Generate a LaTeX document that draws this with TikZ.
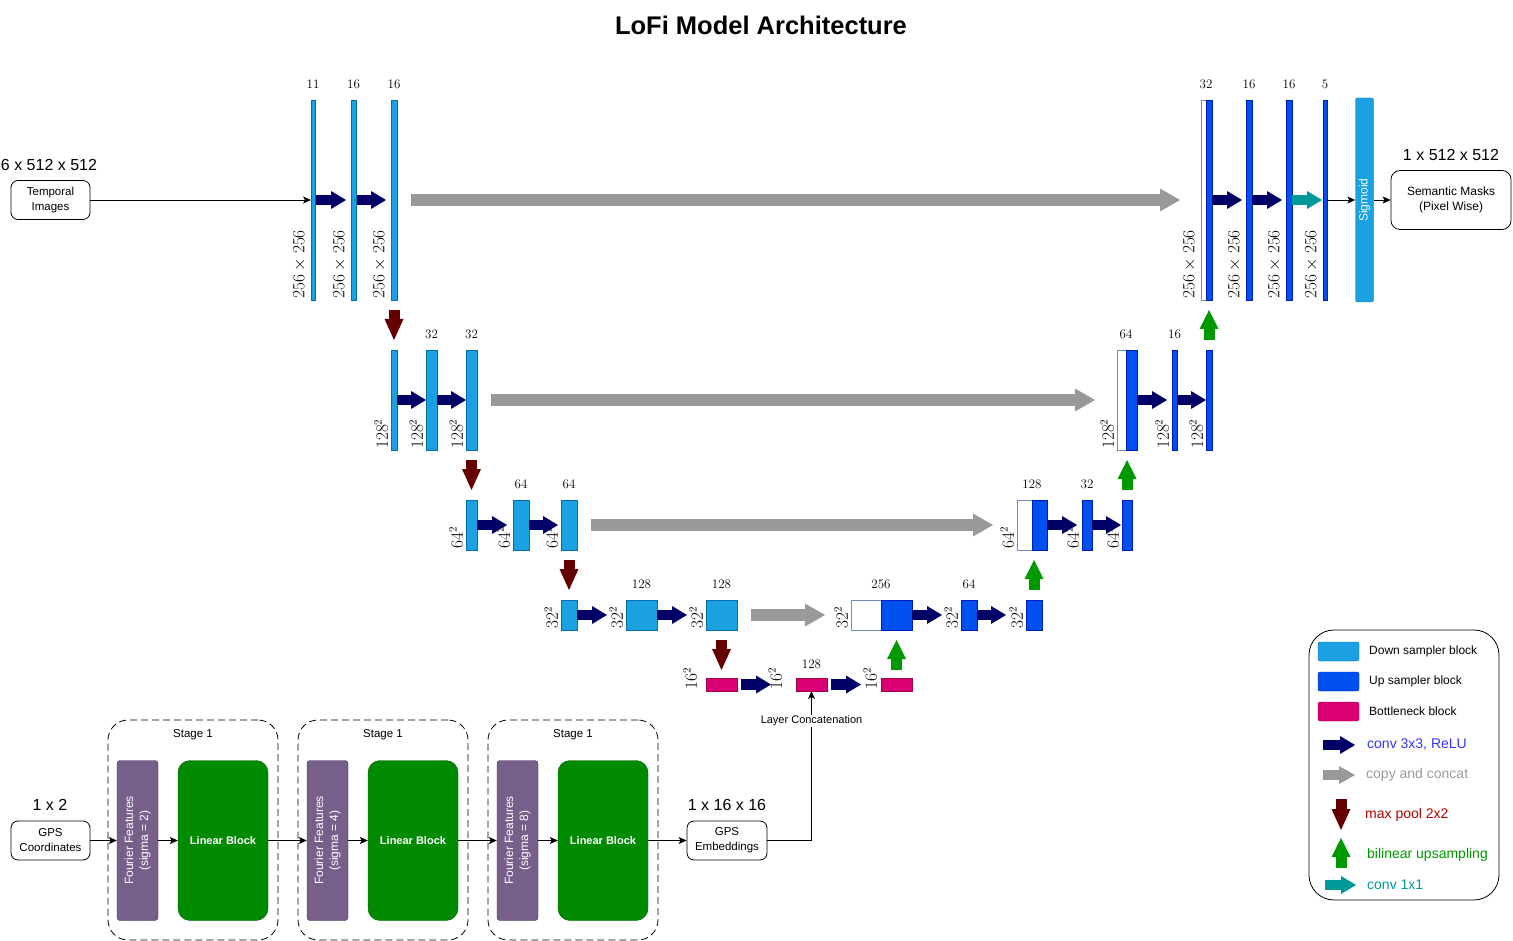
\documentclass[tikz,border=0pt]{standalone}
\usepackage{fontspec}
\newfontfamily\arialf{Liberation Sans}
\usetikzlibrary{arrows.meta,positioning}

\definecolor{dnfill}{HTML}{1BA1E2}
\definecolor{dnline}{HTML}{006EAF}
\definecolor{upfill}{HTML}{0050EF}
\definecolor{upline}{HTML}{001DBC}
\definecolor{btfill}{HTML}{D80073}
\definecolor{btline}{HTML}{A50040}
\definecolor{ccline}{HTML}{6C8EBF}
\definecolor{navy}{HTML}{000066}
\definecolor{cpgray}{HTML}{999999}
\definecolor{poolred}{HTML}{660000}
\definecolor{upgreen}{HTML}{009900}
\definecolor{cvteal}{HTML}{009999}
\definecolor{ffpurple}{HTML}{76608A}
\definecolor{ffline}{HTML}{432D57}
\definecolor{lingreen}{HTML}{008A00}
\definecolor{linline}{HTML}{005700}
\definecolor{convblue}{HTML}{3333FF}
\definecolor{poolfont}{HTML}{B20000}

% block of a layer: name, style, left, top, width, height
\newcommand{\blk}[6]{\node[#2,minimum width=#5pt,minimum height=#6pt,anchor=north west] (#1) at (#3,#4) {};}
% rotated size label left of a block
\newcommand{\dimlbl}[4][2pt]{\node[dim,anchor=south west] (#2) at ([xshift=-#1]#3.south west) {#4};}

\begin{document}
\begin{tikzpicture}[x=1pt,y=-1pt,
  dsb/.style={draw=dnline,fill=dnfill,inner sep=0pt,outer sep=0pt},
  usb/.style={draw=upline,fill=upfill,inner sep=0pt,outer sep=0pt},
  bnb/.style={draw=btline,fill=btfill,inner sep=0pt,outer sep=0pt},
  ccb/.style={draw=ccline,fill=white,inner sep=0pt,outer sep=0pt},
  num/.style={font=\fontsize{13}{13}\selectfont,inner sep=0pt},
  dim/.style={rotate=90,font=\fontsize{16}{16}\selectfont,inner sep=1pt},
  conv/.style={navy,line width=10.5pt,-{Triangle[length=15pt,width=18pt,line width=0pt]}},
  cv1/.style={cvteal,line width=10.5pt,-{Triangle[length=15pt,width=18pt,line width=0pt]}},
  cpy/.style={cpgray,line width=12pt,-{Triangle[length=20pt,width=23pt,line width=0pt]}},
  pool/.style={poolred,line width=11pt,-{Triangle[length=21pt,width=19pt,line width=0pt]}},
  upsmp/.style={upgreen,line width=11pt,-{Triangle[length=19pt,width=19pt,line width=0pt]}},
  thin/.style={line width=0.8pt,-{Stealth[length=8pt,width=7pt,inset=2pt]}},
  box/.style={draw,line width=0.8pt,rounded corners=7pt,align=center,inner sep=0pt,
    font=\arialf\fontsize{11.5}{15}\selectfont},
  shp/.style={font=\arialf\fontsize{16}{16}\selectfont,inner sep=0pt},
  stage/.style={draw,line width=0.8pt,dash pattern=on 7pt off 4pt,rounded corners=20pt,
    minimum width=170pt,minimum height=220pt},
  ffb/.style={draw=ffline,fill=ffpurple,rounded corners=3pt,rotate=90,text=white,align=center,
    minimum width=160pt,minimum height=41pt,font=\arialf\fontsize{12}{15}\selectfont},
  lin/.style={draw=linline,fill=lingreen,rounded corners=12pt,text=white,
    minimum width=90pt,minimum height=160pt,font=\arialf\bfseries\fontsize{11}{13}\selectfont},
  sig/.style={draw=dnline,fill=dnfill,rounded corners=2pt,rotate=90,text=white,
    minimum width=204pt,minimum height=18pt,inner sep=0pt,font=\arialf\fontsize{12}{12}\selectfont},
  lgtxt/.style={anchor=west,inner sep=0pt,font=\arialf\fontsize{12}{12}\selectfont},
  lgcol/.style={anchor=west,inner sep=0pt,font=\arialf\fontsize{14}{14}\selectfont}]

\useasboundingbox (0,0) rectangle (1513,941);

\node[font=\arialf\bfseries\fontsize{25.5}{28}\selectfont] (title) at (761,25) {LoFi Model Architecture};

% encoder
\blk{d1a}{dsb}{311}{100}{4}{200}
\blk{d1b}{dsb}{351}{100}{5}{200}
\blk{d1c}{dsb}{391}{100}{6}{200}
\blk{d2a}{dsb}{391}{350}{6}{100}
\blk{d2b}{dsb}{426}{350}{11}{100}
\blk{d2c}{dsb}{466}{350}{11}{100}
\blk{d3a}{dsb}{466}{500}{11}{50}
\blk{d3b}{dsb}{513}{500}{16}{50}
\blk{d3c}{dsb}{561}{500}{16}{50}
\blk{d4a}{dsb}{561}{600}{16}{30}
\blk{d4b}{dsb}{626}{600}{31}{30}
\blk{d4c}{dsb}{706}{600}{31}{30}
% bottleneck
\blk{b1}{bnb}{706}{678}{31}{13}
\blk{b2}{bnb}{796}{678}{31}{13}
\blk{b3}{bnb}{881}{678}{31}{13}
% decoder
\blk{u4w}{ccb}{851}{600}{30}{30}
\blk{u4a}{usb}{881}{600}{31}{30}
\blk{u4b}{usb}{961}{600}{16}{30}
\blk{u4c}{usb}{1026}{600}{16}{30}
\blk{u3w}{ccb}{1017}{500}{15}{50}
\blk{u3a}{usb}{1032}{500}{15}{50}
\blk{u3b}{usb}{1082}{500}{10}{50}
\blk{u3c}{usb}{1122}{500}{10}{50}
\blk{u2w}{ccb}{1117}{350}{9}{100}
\blk{u2a}{usb}{1126}{350}{11}{100}
\blk{u2b}{usb}{1172}{350}{5}{100}
\blk{u2c}{usb}{1206}{350}{6}{100}
\blk{u1w}{ccb}{1201}{100}{5}{200}
\blk{u1a}{usb}{1206}{100}{6}{200}
\blk{u1b}{usb}{1246}{100}{6}{200}
\blk{u1c}{usb}{1286}{100}{6}{200}
\blk{u1d}{usb}{1323}{100}{4}{200}

\node[sig] (sigm) at (1364.5,200) {Sigmoid};

% channels
\node[num,above=11pt of d1a] (n1a) {11};
\node[num,above=11pt of d1b] (n1b) {16};
\node[num,above=11pt of d1c] (n1c) {16};
\node[num,above=11pt of d2b] (n2b) {32};
\node[num,above=11pt of d2c] (n2c) {32};
\node[num,above=11pt of d3b] (n3b) {64};
\node[num,above=11pt of d3c] (n3c) {64};
\node[num,above=11pt of d4b] (n4b) {128};
\node[num,above=11pt of d4c] (n4c) {128};
\node[num,above=9pt of b2] (n5b) {128};
\node[num,above=11pt of u4w.north east] (m4a) {256};
\node[num,above=11pt of u4b] (m4b) {64};
\node[num,above=11pt of u3w.north east] (m3a) {128};
\node[num,above=11pt of u3b] (m3b) {32};
\node[num,above=11pt of u2w.north east] (m2a) {64};
\node[num,above=11pt of u2b] (m2b) {16};
\node[num,above=11pt of u1w.north east] (m1a) {32};
\node[num,above=11pt of u1b] (m1b) {16};
\node[num,above=11pt of u1c] (m1c) {16};
\node[num,above=11pt of u1d] (m1d) {5};

% sizes
\dimlbl[4pt]{s1a}{d1a}{$256\times256$}
\dimlbl[4pt]{s1b}{d1b}{$256\times256$}
\dimlbl[4pt]{s1c}{d1c}{$256\times256$}
\dimlbl[4pt]{t1a}{u1w}{$256\times256$}
\dimlbl[4pt]{t1b}{u1b}{$256\times256$}
\dimlbl[4pt]{t1c}{u1c}{$256\times256$}
\dimlbl[4pt]{t1d}{u1d}{$256\times256$}
\dimlbl{s2a}{d2a}{$128^2$}
\dimlbl{s2b}{d2b}{$128^2$}
\dimlbl{s2c}{d2c}{$128^2$}
\dimlbl{t2a}{u2w}{$128^2$}
\dimlbl{t2b}{u2b}{$128^2$}
\dimlbl{t2c}{u2c}{$128^2$}
\dimlbl{s3a}{d3a}{$64^2$}
\dimlbl{s3b}{d3b}{$64^2$}
\dimlbl{s3c}{d3c}{$64^2$}
\dimlbl{t3a}{u3w}{$64^2$}
\dimlbl{t3b}{u3b}{$64^2$}
\dimlbl{t3c}{u3c}{$64^2$}
\dimlbl{s4a}{d4a}{$32^2$}
\dimlbl{s4b}{d4b}{$32^2$}
\dimlbl{s4c}{d4c}{$32^2$}
\dimlbl{t4a}{u4w}{$32^2$}
\dimlbl{t4b}{u4b}{$32^2$}
\dimlbl{t4c}{u4c}{$32^2$}
\dimlbl[8pt]{s5a}{b1}{$16^2$}
\dimlbl[13pt]{s5b}{b2}{$16^2$}
\dimlbl[3pt]{s5c}{b3}{$16^2$}

% level 1
\draw[conv,shorten <=1pt,shorten >=5pt] (d1a.east) -- (d1b.west);
\draw[conv,shorten <=1pt,shorten >=5pt] (d1b.east) -- (d1c.west);
\draw[cpy,shorten <=14pt,shorten >=21pt] (d1c.east) -- (u1w.west);
\draw[conv,shorten >=4pt] (u1a.east) -- (u1b.west);
\draw[conv,shorten >=4pt] (u1b.east) -- (u1c.west);
\draw[cv1,shorten >=1pt] (u1c.east) -- (u1d.west);
\draw[pool,shorten <=10pt,shorten >=10pt] (d1c.south) -- (d2a.north);
% level 2
\draw[conv] (d2a.east) -- (d2b.west);
\draw[conv] (d2b.east) -- (d2c.west);
\draw[cpy,shorten <=14pt,shorten >=22pt] (d2c.east) -- (u2w.west);
\draw[conv,shorten >=5pt] (u2a.east) -- (u2b.west);
\draw[conv] (u2b.east) -- (u2c.west);
\draw[upsmp,shorten <=10pt,shorten >=10pt] (u2c.north) -- (u1a.south);
\draw[pool,shorten <=10pt,shorten >=10pt] (d2c.south) -- (d3a.north);
% level 3
\draw[conv,shorten >=6pt] (d3a.east) -- (d3b.west);
\draw[conv,shorten >=3pt] (d3b.east) -- (d3c.west);
\draw[cpy,shorten <=14pt,shorten >=24pt] (d3c.east) -- (u3w.west);
\draw[conv,shorten >=5pt] (u3a.east) -- (u3b.west);
\draw[conv,shorten >=1pt] (u3b.east) -- (u3c.west);
\draw[upsmp,shorten <=10pt,shorten >=10pt] (u3c.north) -- (u3c.north |- u2a.south);
\draw[pool,shorten <=10pt,shorten >=10pt] (d3c.south) -- (d4a.north);
% level 4
\draw[conv,shorten >=19pt] (d4a.east) -- (d4b.west);
\draw[conv,shorten >=19pt] (d4b.east) -- (d4c.west);
\draw[cpy,shorten <=14pt,shorten >=26pt] (d4c.east) -- (u4w.west);
\draw[conv,shorten >=19pt] (u4a.east) -- (u4b.west);
\draw[conv,shorten >=20pt] (u4b.east) -- (u4c.west);
\draw[upsmp,shorten <=10pt,shorten >=10pt] (u4c.north) -- (u4c.north |- u3a.south);
\draw[pool,shorten <=10pt,shorten >=8pt] (d4c.south) -- (b1.north);
% level 5
\draw[conv,shorten <=4pt,shorten >=25pt] (b1.east) -- (b2.west);
\draw[conv,shorten <=4pt,shorten >=20pt] (b2.east) -- (b3.west);
\draw[upsmp,shorten <=8pt,shorten >=10pt] (b3.north) -- (u4a.south);

% input and output
\node[box,minimum width=79pt,minimum height=39pt] (temp) at (50.5,200) {Temporal\\Images};
\node[shp] (tempsz) at (49,165) {6 x 512 x 512};
\node[box,minimum width=120pt,minimum height=59pt,rounded corners=9pt,
  font=\arialf\fontsize{12}{15}\selectfont] (mask) at (1451,200) {Semantic Masks\\(Pixel Wise)};
\node[shp] (masksz) at (1451,155) {1 x 512 x 512};
\draw[thin] (temp.east) -- (d1a.west);
\draw[thin] (u1d.east) -- (sigm.north);
\draw[thin] (sigm.south) -- (mask.west);

% gps branch
\node[box,minimum width=79pt,minimum height=39pt] (gpsc) at (50.5,840.5) {GPS\\Coordinates};
\node[shp] (gpscsz) at (50,805) {1 x 2};
\node[box,minimum width=80pt,minimum height=39pt] (gpse) at (727,840.5) {GPS\\Embeddings};
\node[shp] (gpsesz) at (727,805) {1 x 16 x 16};
\foreach \i/\s in {0/2,1/4,2/8} {
  \node[stage] (st\i) at ({193+190*\i},830) {};
  \node[font=\arialf\fontsize{11.5}{12}\selectfont] (stl\i) at ({193+190*\i},735) {Stage 1};
  \node[ffb] (ff\i) at ({137.5+190*\i},840.5) {Fourier Features\\(sigma = \s)};
  \node[lin] (lb\i) at ({223+190*\i},840.5) {Linear Block};
  \draw[thin] (ff\i.south) -- (lb\i.west);
}
\draw[thin] (gpsc.east) -- (ff0.north);
\draw[thin] (lb0.east) -- (ff1.north);
\draw[thin] (lb1.east) -- (ff2.north);
\draw[thin] (lb2.east) -- (gpse.west);
\draw[thin] (gpse.east) -| (b2.south)
  node[pos=0.9,fill=white,inner sep=1pt,font=\arialf\fontsize{11}{11}\selectfont] (lcat) {Layer Concatenation};

% legend
\node[draw,line width=0.8pt,rounded corners=25pt,minimum width=190pt,minimum height=270pt] (legend) at (1404,765) {};
\node[dsb,rounded corners=2pt,minimum width=41pt,minimum height=19pt] (lg1) at (1338.5,651.5) {};
\node[usb,rounded corners=2pt,minimum width=41pt,minimum height=19pt] (lg2) at (1338.5,681.5) {};
\node[bnb,rounded corners=2pt,minimum width=41pt,minimum height=19pt] (lg3) at (1338.5,711.5) {};
\node[lgtxt] (lt1) at (1369,651.5) {Down sampler block};
\node[lgtxt] (lt2) at (1369,681.5) {Up sampler block};
\node[lgtxt] (lt3) at (1369,711.5) {Bottleneck block};
\coordinate (la1) at (1323,745); \coordinate (la2) at (1355,745);
\coordinate (lb1) at (1323,775); \coordinate (lb2) at (1355,775);
\coordinate (lc1) at (1341,799); \coordinate (lc2) at (1341,830);
\coordinate (ld1) at (1341,868); \coordinate (ld2) at (1341,838);
\coordinate (le1) at (1325,885); \coordinate (le2) at (1356,885);
\draw[conv] (la1) -- (la2);
\draw[cpy,line width=10.5pt,-{Triangle[length=16pt,width=18pt,line width=0pt]}] (lb1) -- (lb2);
\draw[pool] (lc1) -- (lc2);
\draw[upsmp] (ld1) -- (ld2);
\draw[cv1] (le1) -- (le2);
\node[lgcol,text=convblue] (lt4) at (1367,745) {conv 3x3, ReLU};
\node[lgcol,text=cpgray] (lt5) at (1366,775) {copy and concat};
\node[lgcol,text=poolfont] (lt6) at (1365,815) {max pool 2x2};
\node[lgcol,text=upgreen] (lt7) at (1367,855) {bilinear upsampling};
\node[lgcol,text=cvteal] (lt8) at (1367,885) {conv 1x1};
\end{tikzpicture}
\end{document}
